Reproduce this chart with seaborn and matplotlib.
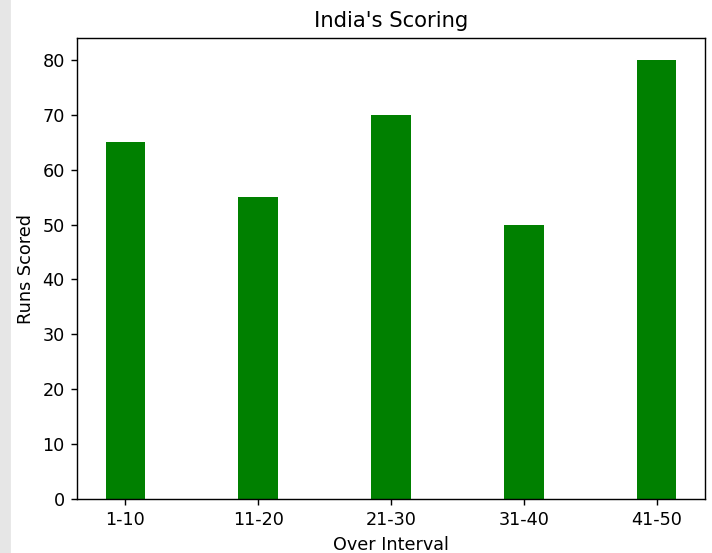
import matplotlib
matplotlib.use("Agg")
import matplotlib.pyplot as plt
import seaborn as sns
import pandas as pd

intervals = ["1-10", "11-20", "21-30", "31-40", "41-50"]
runs = [65, 55, 70, 50, 80]

df = pd.DataFrame({"Over Interval": intervals, "Runs Scored": runs})

DPI = 127
fig = plt.figure(figsize=(712 / DPI, 553 / DPI), dpi=DPI)
ax = fig.add_axes([77/712, 1 - 499/553, (705 - 77)/712, (499 - 38)/553])
sns.barplot(data=df, x="Over Interval", y="Runs Scored", color="green",
            saturation=1, width=0.3, ax=ax)
ax.set_xlim(-0.365, 4.365)
ax.set_ylim(0, 84)
ax.set_title("India's Scoring")
ax.set_xlabel("Over Interval")
ax.set_ylabel("Runs Scored")

# light gray strip at left edge (screenshot margin)
fig.patches.append(plt.Rectangle((0, 0), 10/712, 1, transform=fig.transFigure,
                                 color="#e6e6e6", zorder=-1))
fig.savefig("out.png", dpi=DPI)
